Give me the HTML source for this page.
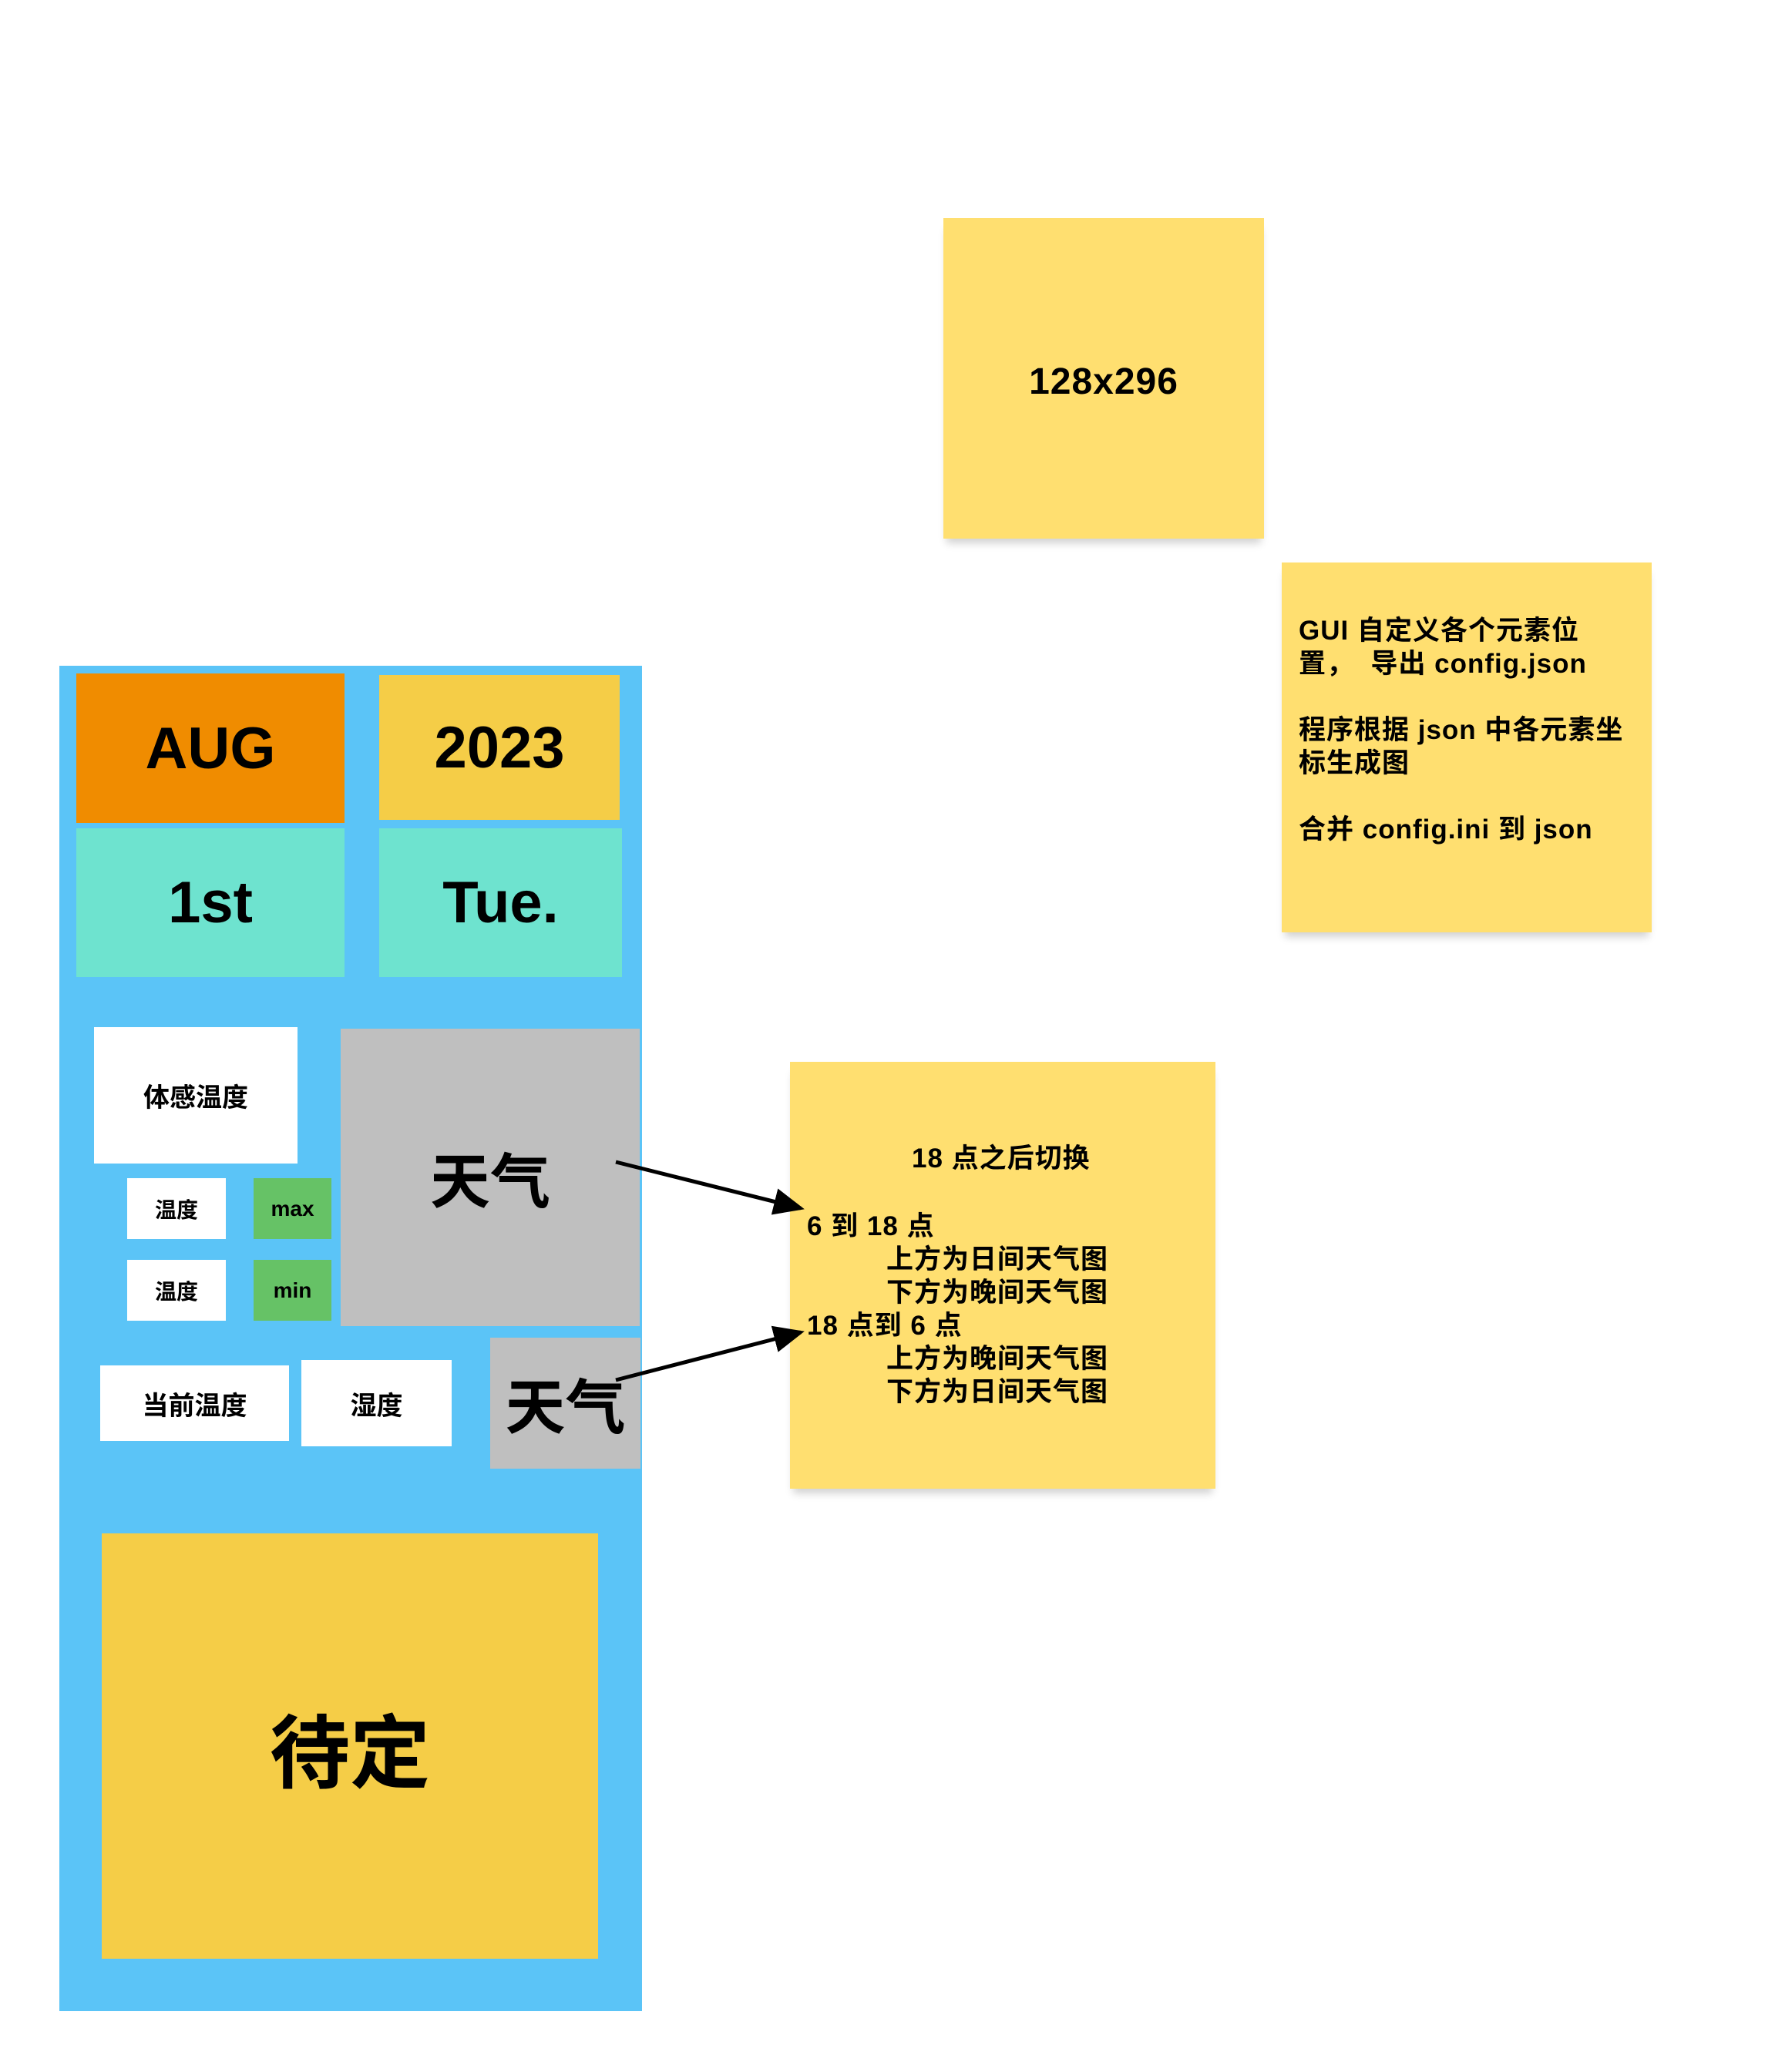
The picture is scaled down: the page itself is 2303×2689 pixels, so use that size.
<!DOCTYPE html>
<html><head><meta charset="utf-8"><style>
html,body{margin:0;padding:0;background:#fff;}
body{width:2303px;height:2689px;position:relative;overflow:hidden;font-family:"Liberation Sans","Noto Sans CJK SC",sans-serif;color:#000;}
.b{position:absolute;display:flex;align-items:center;justify-content:center;font-weight:bold;}
.s{position:absolute;background:#FFDF70;box-shadow:0 10px 10px -4px rgba(0,0,0,0.18);}
.t{position:absolute;font-size:35px;font-weight:bold;line-height:43px;white-space:pre;letter-spacing:1px;}
</style></head><body>
<div class="b" style="left:77px;top:864px;width:756px;height:1746px;background:#5BC4F7"></div>
<div class="b" style="left:99px;top:874px;width:348px;height:194px;background:#F08C00;font-size:76px">AUG</div>
<div class="b" style="left:492px;top:876px;width:312px;height:188px;background:#F5CD47;font-size:76px">2023</div>
<div class="b" style="left:99px;top:1075px;width:348px;height:193px;background:#6EE3CF;font-size:76px">1st</div>
<div class="b" style="left:492px;top:1075px;width:315px;height:193px;background:#6EE3CF;font-size:76px">Tue.</div>
<div class="b" style="left:122px;top:1333px;width:264px;height:177px;background:#fff;font-size:34px">体感温度</div>
<div class="b" style="left:165px;top:1529px;width:128px;height:79px;background:#fff;font-size:28px">温度</div>
<div class="b" style="left:329px;top:1529px;width:101px;height:79px;background:#66C266;font-size:28px">max</div>
<div class="b" style="left:165px;top:1635px;width:128px;height:79px;background:#fff;font-size:28px">温度</div>
<div class="b" style="left:329px;top:1635px;width:101px;height:79px;background:#66C266;font-size:28px">min</div>
<div class="b" style="left:442px;top:1335px;width:388px;height:386px;background:#BFBFBF;font-size:78px">天气</div>
<div class="b" style="left:130px;top:1772px;width:245px;height:98px;background:#fff;font-size:34px">当前温度</div>
<div class="b" style="left:391px;top:1765px;width:195px;height:112px;background:#fff;font-size:34px">湿度</div>
<div class="b" style="left:636px;top:1736px;width:195px;height:170px;background:#BFBFBF;font-size:78px">天气</div>
<div class="b" style="left:132px;top:1990px;width:644px;height:552px;background:#F5CD47;font-size:104px">待定</div>

<div class="s" style="left:1224px;top:283px;width:416px;height:416px"></div>
<div class="b" style="left:1224px;top:287px;width:416px;height:416px;font-size:48px;letter-spacing:1px">128x296</div>

<div class="s" style="left:1663px;top:730px;width:480px;height:480px"></div>
<div class="t" style="left:1685px;top:797px">GUI 自定义各个元素位
置，  导出 config.json

程序根据 json 中各元素坐
标生成图

合并 config.ini 到 json</div>

<div class="s" style="left:1025px;top:1378px;width:552px;height:554px"></div>
<div class="t" style="left:1183px;top:1482px">18 点之后切换</div>
<div class="t" style="left:1047px;top:1570px">6 到 18 点</div>
<div class="t" style="left:1150px;top:1613px">上方为日间天气图
下方为晚间天气图</div>
<div class="t" style="left:1047px;top:1699px">18 点到 6 点</div>
<div class="t" style="left:1150px;top:1742px">上方为晚间天气图
下方为日间天气图</div>

<svg width="2303" height="2689" style="position:absolute;left:0;top:0">
<defs><marker id="a" markerWidth="8" markerHeight="8" refX="7" refY="4" orient="auto" markerUnits="strokeWidth"><path d="M0,0.5 L8,4 L0,7.5 z" fill="#000"/></marker></defs>
<line x1="799" y1="1508" x2="1039" y2="1568" stroke="#000" stroke-width="5" marker-end="url(#a)"/>
<line x1="799" y1="1791" x2="1039" y2="1729" stroke="#000" stroke-width="5" marker-end="url(#a)"/>
</svg>
</body></html>
